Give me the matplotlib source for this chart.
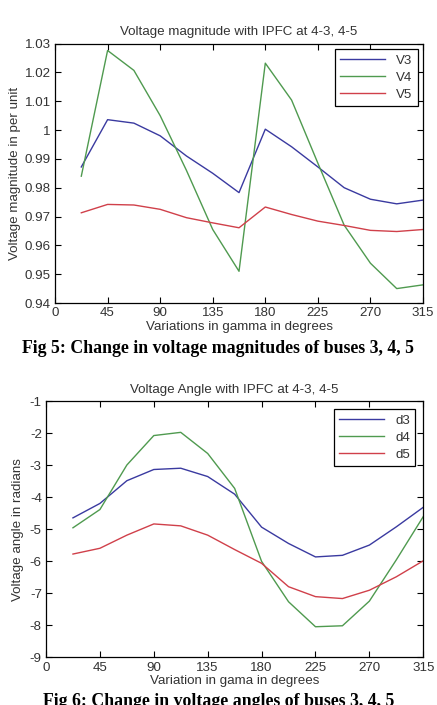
import matplotlib.pyplot as plt

plt.rcParams["font.family"] = ["Liberation Sans", "DejaVu Sans"]
plt.rcParams["axes.unicode_minus"] = False

# gamma (degrees)
gamma = [22.5, 45, 67.5, 90, 112.5, 135, 157.5, 180, 202.5, 225, 247.5, 270, 292.5, 315]

# voltage magnitudes (p.u.)
V3 = [0.9872, 1.0036, 1.0024, 0.998, 0.991, 0.985, 0.9783, 1.0003, 0.9942, 0.9872, 0.980, 0.976, 0.9744, 0.9757]
V4 = [0.984, 1.0276, 1.0207, 1.005, 0.986, 0.9655, 0.951, 1.0232, 1.0104, 0.9885, 0.967, 0.9538, 0.945, 0.9463]
V5 = [0.9713, 0.9742, 0.974, 0.9725, 0.9696, 0.9678, 0.9661, 0.9733, 0.9707, 0.9684, 0.9669, 0.9652, 0.9648, 0.9655]

# voltage angles (radians)
d3 = [-4.64, -4.19, -3.48, -3.13, -3.09, -3.35, -3.9, -4.93, -5.44, -5.86, -5.81, -5.49, -4.92, -4.31]
d4 = [-4.95, -4.38, -2.99, -2.07, -1.97, -2.63, -3.72, -6.0, -7.26, -8.04, -8.01, -7.24, -5.95, -4.6]
d5 = [-5.77, -5.59, -5.18, -4.83, -4.89, -5.18, -5.63, -6.06, -6.79, -7.1, -7.16, -6.9, -6.48, -5.98]

xticks = [0, 45, 90, 135, 180, 225, 270, 315]
colors = ["#3a3aa0", "#4f9a4f", "#d0404a"]
txt = "#333333"
fs = 9.6


def style(ax):
    ax.tick_params(direction="in", top=True, right=True, length=4,
                   labelsize=fs, colors="black", labelcolor=txt, pad=3)
    for s in ax.spines.values():
        s.set_linewidth(0.9)
    ax.set_xlim(0, 315)
    ax.set_xticks(xticks)


def add_legend(ax, pad):
    leg = ax.legend(loc="upper right", fontsize=fs, handlelength=3.4, fancybox=False,
                    edgecolor="black", framealpha=1, borderaxespad=pad,
                    labelspacing=0.35, borderpad=0.4)
    leg.get_frame().set_linewidth(0.9)
    for t in leg.get_texts():
        t.set_color(txt)


fig = plt.figure(figsize=(4.37, 7.05), dpi=100)

ax1 = fig.add_axes([0.1259, 0.5702, 0.8421, 0.368])
for y, c, lab in zip([V3, V4, V5], colors, ["V3", "V4", "V5"]):
    ax1.plot(gamma, y, color=c, lw=1.0, label=lab)
ax1.set_ylim(0.94, 1.03)
ax1.set_yticks([0.94, 0.95, 0.96, 0.97, 0.98, 0.99, 1.0, 1.01, 1.02, 1.03])
ax1.set_yticklabels(["0.94", "0.95", "0.96", "0.97", "0.98", "0.99", "1", "1.01", "1.02", "1.03"])
style(ax1)
ax1.set_title("Voltage magnitude with IPFC at 4-3, 4-5", fontsize=fs, color=txt, pad=6)
ax1.set_xlabel("Variations in gamma in degrees", fontsize=fs, color=txt, labelpad=1)
ax1.set_ylabel("Voltage magnitude in per unit", fontsize=fs, color=txt, labelpad=3)
add_legend(ax1, 0.4)

ax2 = fig.add_axes([0.1053, 0.0674, 0.8633, 0.3634])
for y, c, lab in zip([d3, d4, d5], colors, ["d3", "d4", "d5"]):
    ax2.plot(gamma, y, color=c, lw=1.0, label=lab)
ax2.set_ylim(-9, -1)
ax2.set_yticks(range(-9, 0))
style(ax2)
ax2.set_title("Voltage Angle with IPFC at 4-3, 4-5", fontsize=fs, color=txt, pad=6)
ax2.set_xlabel("Variation in gama in degrees", fontsize=fs, color=txt, labelpad=1)
ax2.set_ylabel("Voltage angle in radians", fontsize=fs, color=txt, labelpad=4)
add_legend(ax2, 0.6)

fig.text(0.5, 1 - 349 / 705, "Fig 5: Change in voltage magnitudes of buses 3, 4, 5",
         ha="center", va="center", fontsize=12.8, fontweight="bold", family="Liberation Serif")
fig.text(0.5, 1 - 702 / 705, "Fig 6: Change in voltage angles of buses 3, 4, 5",
         ha="center", va="center", fontsize=12.8, fontweight="bold", family="Liberation Serif")

fig.savefig("out.png", dpi=100)
